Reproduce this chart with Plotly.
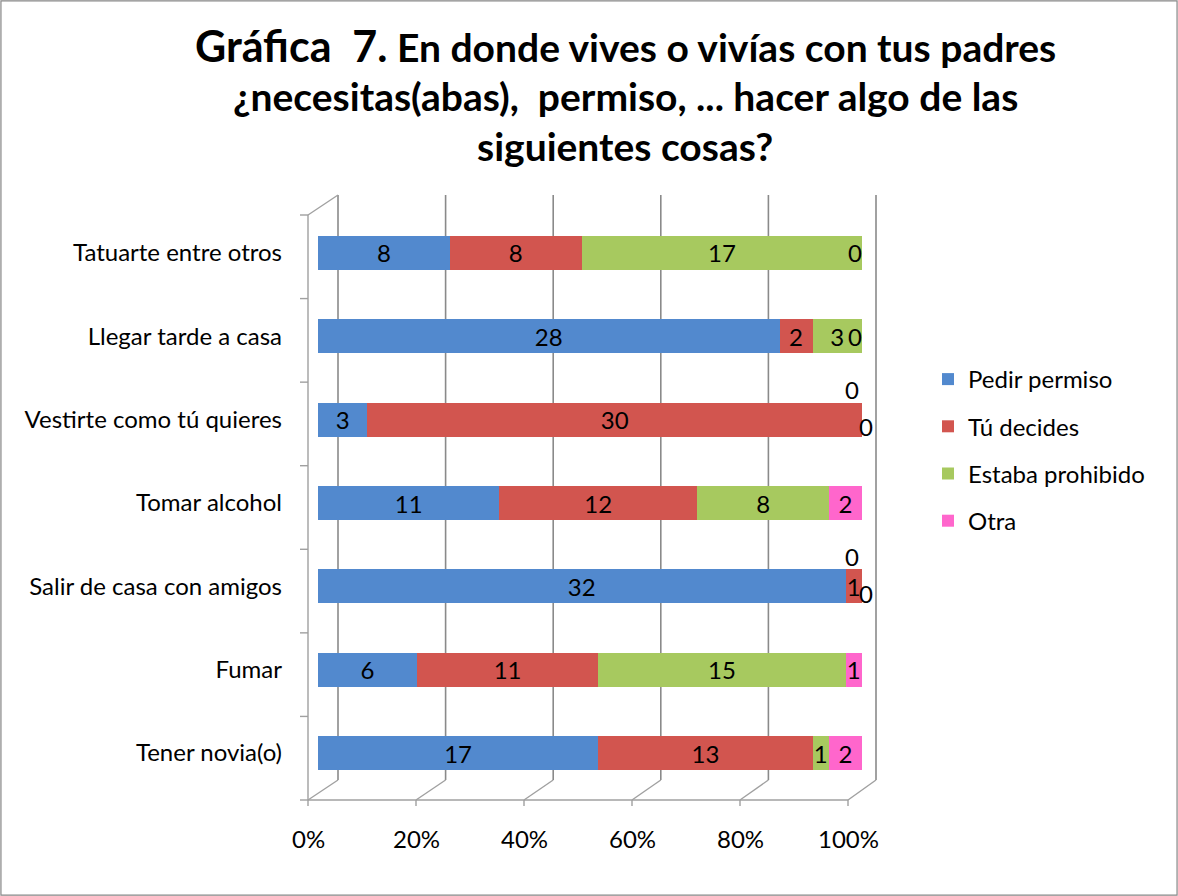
import plotly.graph_objects as go

categories = ["Tener novia(o)", "Fumar", "Salir de casa con amigos", "Tomar alcohol",
              "Vestirte como tú quieres", "Llegar tarde a casa", "Tatuarte entre otros"]
series_names = ["Pedir permiso", "Tú decides", "Estaba prohibido", "Otra"]
pedir_permiso = [17, 6, 32, 11, 3, 28, 8]
tu_decides = [13, 11, 1, 12, 30, 2, 8]
estaba_prohibido = [1, 15, 0, 8, 0, 3, 17]
otra = [2, 1, 0, 2, 0, 0, 0]
tick_values = [0, 20, 40, 60, 80, 100]
tick_labels = ["0%", "20%", "40%", "60%", "80%", "100%"]

colors = ["#5289CE", "#D2554F", "#A7C95F", "#FF66CC"]
series = [pedir_permiso, tu_decides, estaba_prohibido, otra]
totals = [sum(s[i] for s in series) for i in range(len(categories))]

W, H = 1178, 896
def px(x):
    return x / W
def py(y):
    return (H - y) / H

FONT = "Lato, Calibri, Carlito, sans-serif"
FS = 24

fig = go.Figure()
for k, (name, vals) in enumerate(zip(series_names, series)):
    pct = [v / t * 100 for v, t in zip(vals, totals)]
    fig.add_trace(go.Bar(
        y=categories, x=pct, orientation="h", name=name,
        marker=dict(color=colors[k], line=dict(width=0)),
        text=[str(v) if v else "" for v in vals],
        textposition="inside", insidetextanchor="middle", textangle=0,
        textfont=dict(size=FS, color="black", family=FONT),
        constraintext="none", cliponaxis=False,
        legendgroup=name, hoverinfo="x+y",
    ))

# labels for zero values (placed at the cumulative end of the stack)
annotations = []
for i, cat in enumerate(categories):
    zeros = [k for k in range(4) if series[k][i] == 0]
    for j, k in enumerate(zeros):
        cum = sum(series[m][i] for m in range(k + 1)) / totals[i] * 100
        if len(zeros) == 1:
            xs, ys = -7, 0
        elif j == 0:
            xs, ys = -10, 30
        else:
            xs, ys = 4, -7
        annotations.append(dict(x=cum, y=cat, xref="x", yref="y", text="0", showarrow=False,
                                xshift=xs, yshift=ys,
                                font=dict(size=FS, color="black", family=FONT)))

# 3D-like frame geometry (pixels)
grid_c = "#8a8a8a"
front_x0, front_x1, back_x0, back_x1 = 308, 848, 338, 876
floor_front_y, floor_back_y, back_top_y = 800, 780, 195
wall_top_front = 215

# x tick labels on the front edge of the floor
for t, lab in zip(tick_values, tick_labels):
    fx = front_x0 + t / 100 * (front_x1 - front_x0)
    annotations.append(dict(x=px(fx), y=py(838), xref="paper", yref="paper", text=lab,
                            showarrow=False, xanchor="center", yanchor="middle",
                            font=dict(size=FS, color="black", family=FONT)))

# title lines
title_lines = [
    "<b><span style='font-size:43px'>Gráfica\u00a0 7.</span> En donde vives o vivías con tus padres</b>",
    "<b>¿necesitas(abas),\u00a0 permiso, ... hacer algo de las</b>",
    "<b>siguientes cosas?</b>",
]
for line, yc in zip(title_lines, [45, 96, 146]):
    annotations.append(dict(x=px(625), y=py(yc), xref="paper", yref="paper", text=line,
                            showarrow=False, xanchor="center", yanchor="middle",
                            font=dict(size=39, color="black", family=FONT)))

def seg(x0, y0, x1, y1, color="#a0a0a0", width=1.4):
    return dict(type="line", xref="paper", yref="paper", layer="below",
                x0=px(x0), x1=px(x1), y0=py(y0), y1=py(y1), line=dict(color=color, width=width))

shapes = []
for t in tick_values:
    bx = back_x0 + t / 100 * (back_x1 - back_x0)
    fx = front_x0 + t / 100 * (front_x1 - front_x0)
    shapes.append(seg(bx, back_top_y, bx, floor_back_y, grid_c, 1.6))
    shapes.append(seg(fx, floor_front_y, bx, floor_back_y))
    shapes.append(seg(fx, floor_front_y, fx, floor_front_y + 6))
# front floor edge
shapes.append(seg(front_x0, floor_front_y, front_x1, floor_front_y))
# left wall
shapes.append(seg(front_x0, wall_top_front, front_x0, floor_front_y))
shapes.append(seg(front_x0, wall_top_front, back_x0, back_top_y))
n = len(categories)
for i in range(n + 1):
    yy = floor_front_y - i * (floor_front_y - wall_top_front) / n
    shapes.append(seg(300, yy, front_x0, yy))
# outer border
shapes.append(dict(type="rect", xref="paper", yref="paper", x0=0.0008, x1=0.9992, y0=0.001, y1=0.999,
                   line=dict(color="#868686", width=1.2)))

fig.update_layout(
    width=W, height=H,
    margin=dict(l=0, r=0, t=0, b=0),
    paper_bgcolor="white", plot_bgcolor="rgba(0,0,0,0)",
    barmode="stack", bargap=0.59,
    font=dict(family=FONT, size=FS, color="black"),
    uniformtext=dict(minsize=FS, mode="show"),
    xaxis=dict(domain=[px(318), px(862)], range=[0, 100], visible=False, fixedrange=True),
    yaxis=dict(domain=[py(794.7), py(211.3)], range=[-0.5, 6.5], categoryorder="array",
               categoryarray=categories, showgrid=False, showline=False, zeroline=False,
               ticks="", ticklabelstandoff=35, tickfont=dict(size=FS, family=FONT, color="black")),
    legend=dict(x=px(928), y=py(357), xanchor="left", yanchor="top", traceorder="grouped",
                tracegroupgap=13, font=dict(size=FS, family=FONT, color="black"),
                bgcolor="rgba(0,0,0,0)"),
    annotations=annotations,
    shapes=shapes,
)

fig.write_html("out.html", config={"displayModeBar": False},
               post_script="document.body.style.margin='0';document.body.style.overflow='hidden';")
